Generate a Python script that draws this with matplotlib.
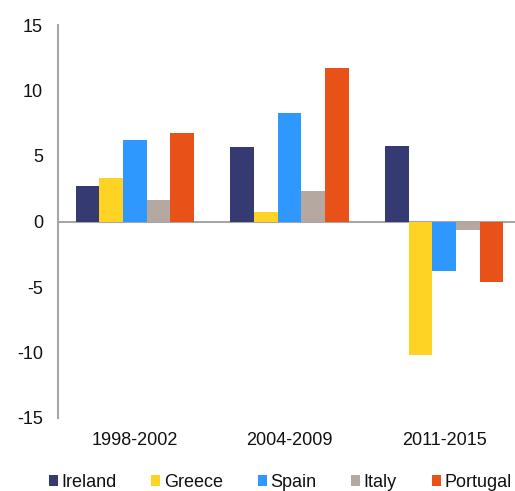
import numpy as np
import matplotlib
matplotlib.use('Agg')
from matplotlib import pyplot as plt

plt.rcParams['font.family'] = ['Liberation Sans', 'DejaVu Sans']
plt.rcParams['axes.unicode_minus'] = False

periods = ['1998-2002', '2004-2009', '2011-2015']
countries = ['Ireland', 'Greece', 'Spain', 'Italy', 'Portugal']
ireland = [2.7, 5.7, 5.8]
greece = [3.3, 0.75, -10.2]
spain = [6.25, 8.3, -3.8]
italy = [1.65, 2.35, -0.65]
portugal = [6.75, 11.75, -4.6]
colors = ['#353B72', '#FFD324', '#2E98FF', '#B5A8A0', '#E85219']

series = [ireland, greece, spain, italy, portugal]

fig = plt.figure(figsize=(5.15, 4.91), dpi=100)
ax = fig.add_axes([57.6 / 515, 73 / 491, 464 / 515, 393 / 491])

x = np.arange(len(periods))
w = 0.153
for i, (vals, c, name) in enumerate(zip(series, colors, countries)):
    ax.bar(x + (i - 2) * w, vals, width=w, color=c, label=name, zorder=2)

ax.axhline(0, color='#A6A6A6', lw=1.5, zorder=1)
ax.set_xlim(-0.5, 2.5)
ax.set_ylim(-15, 15)
ax.set_yticks([-15, -10, -5, 0, 5, 10, 15])
ax.set_xticks(x)
ax.set_xticklabels(periods)
ax.tick_params(axis='both', length=0, labelsize=13, colors='#111111')
ax.tick_params(axis='y', pad=10.5)
ax.tick_params(axis='x', pad=10)
for s in ['top', 'right', 'bottom']:
    ax.spines[s].set_visible(False)
ax.spines['left'].set_color('#A6A6A6')
ax.spines['left'].set_linewidth(1.5)

leg = fig.legend(loc='lower left', bbox_to_anchor=(38 / 515, -0.022), ncol=5, frameon=False,
                 fontsize=13, handlelength=0.5, handleheight=0.5, handletextpad=0.2,
                 columnspacing=1.92, borderaxespad=0.2)
for t in leg.get_texts():
    t.set_color('#111111')

plt.savefig('out.png', dpi=100)
